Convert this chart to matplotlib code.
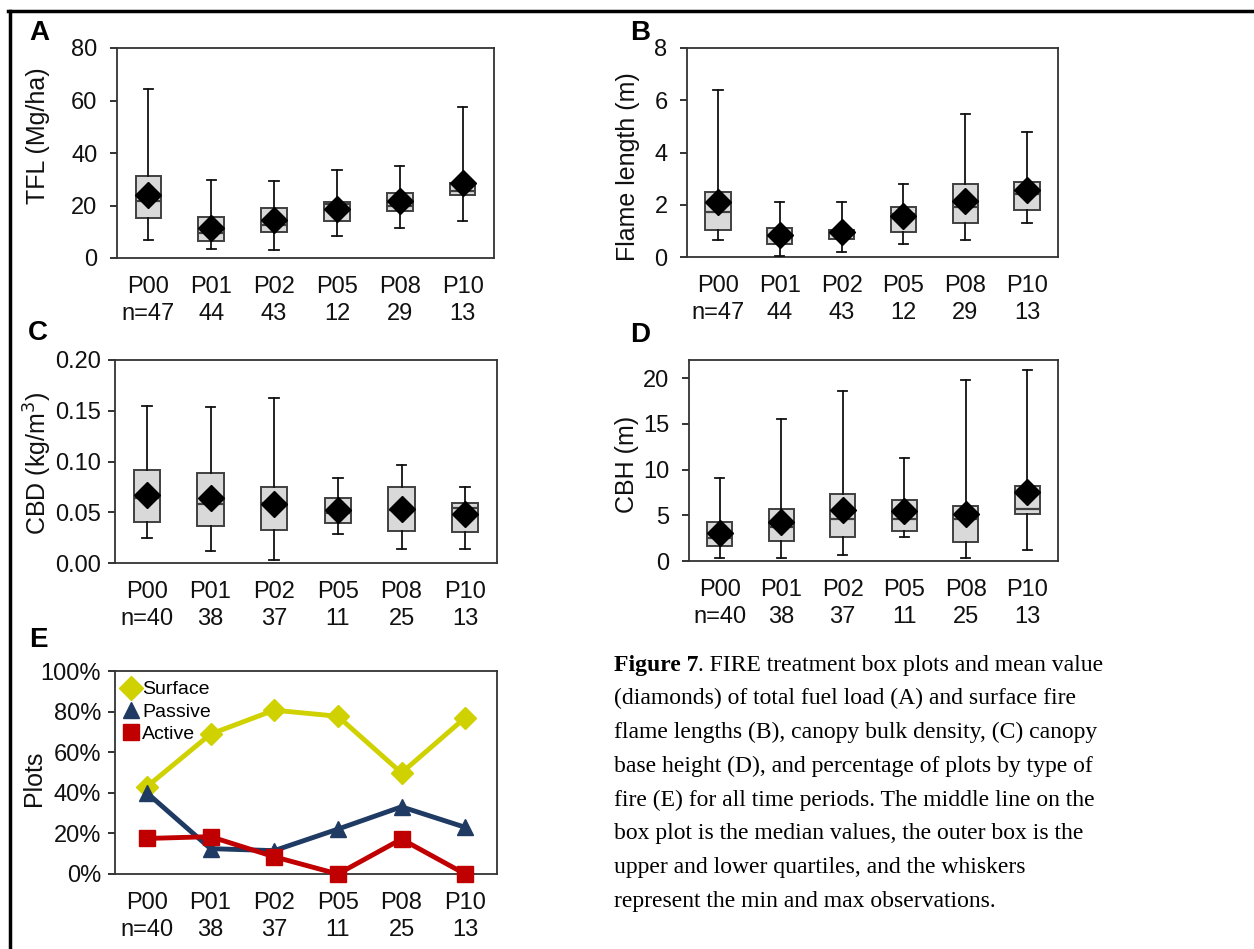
import matplotlib.pyplot as plt
import numpy as np
from matplotlib.lines import Line2D

plt.rcParams['font.family'] = ['Liberation Sans', 'DejaVu Sans']

periods = ["P00", "P01", "P02", "P05", "P08", "P10"]
n_ab = ["n=47", "44", "43", "12", "29", "13"]
n_cde = ["n=40", "38", "37", "11", "25", "13"]

# box plot stats: whisker low, q1, median, q3, whisker high, mean
tfl_lo = [7.0, 3.4, 3.2, 8.3, 11.3, 14.2]
tfl_q1 = [15.2, 6.5, 9.9, 14.0, 18.0, 24.0]
tfl_med = [21.7, 9.5, 12.6, 20.7, 19.7, 25.7]
tfl_q3 = [31.1, 15.5, 19.0, 21.5, 24.6, 28.6]
tfl_hi = [64.5, 29.7, 29.2, 33.7, 34.9, 57.5]
tfl_mean = [24.1, 11.3, 14.3, 18.8, 21.6, 28.6]

fl_lo = [0.64, 0.03, 0.19, 0.50, 0.64, 1.31]
fl_q1 = [1.05, 0.49, 0.69, 0.96, 1.31, 1.79]
fl_med = [1.72, 0.82, 0.90, 1.63, 1.92, 2.43]
fl_q3 = [2.50, 1.10, 1.05, 1.90, 2.79, 2.88]
fl_hi = [6.40, 2.10, 2.10, 2.79, 5.48, 4.80]
fl_mean = [2.09, 0.83, 0.96, 1.57, 2.15, 2.56]

cbd_lo = [0.025, 0.012, 0.003, 0.029, 0.014, 0.014]
cbd_q1 = [0.040, 0.0365, 0.033, 0.039, 0.0316, 0.0306]
cbd_med = [0.0645, 0.0586, 0.059, 0.049, 0.0526, 0.054]
cbd_q3 = [0.092, 0.089, 0.075, 0.064, 0.075, 0.0595]
cbd_hi = [0.155, 0.154, 0.1625, 0.0836, 0.097, 0.075]
cbd_mean = [0.0668, 0.064, 0.0585, 0.052, 0.053, 0.048]

cbh_lo = [0.3, 0.3, 0.62, 2.66, 0.3, 1.17]
cbh_q1 = [1.68, 2.15, 2.66, 3.28, 2.08, 5.15]
cbh_med = [2.52, 3.69, 4.6, 4.56, 4.6, 5.73]
cbh_q3 = [4.27, 5.66, 7.34, 6.68, 6.06, 8.2]
cbh_hi = [9.05, 15.5, 18.6, 11.3, 19.8, 20.9]
cbh_mean = [3.1, 4.23, 5.62, 5.51, 5.1, 7.6]

fire_types = ["Surface", "Passive", "Active"]
surface_pct = [43, 68.9, 80.7, 77.7, 49.8, 77]
passive_pct = [40, 12.5, 11.5, 22.1, 33.1, 23]
active_pct = [17.5, 18.4, 8.5, 0, 17.2, 0]

W, H = 1254, 949
fig = plt.figure(figsize=(W / 100, H / 100), dpi=100)


def px_axes(left, top, right, bottom):
    return fig.add_axes([left / W, 1 - bottom / H, (right - left) / W, (bottom - top) / H])


def style(ax, nlabels, ylabel, lab_x, lab_y, ypad=6):
    for s in ax.spines.values():
        s.set_color("#333333")
        s.set_linewidth(1.3)
    ax.set_xlim(-0.5, 5.5)
    ax.set_xticks(range(6))
    ax.set_xticklabels([p + "\n" + n for p, n in zip(periods, nlabels)], linespacing=1.32)
    ax.tick_params(axis="x", length=0, pad=13, labelsize=17, colors="#111111")
    ax.tick_params(axis="y", length=5, width=1.2, labelsize=17, colors="#111111", pad=ypad)
    ax.set_ylabel(ylabel, fontsize=18, color="#111111")
    # label anchor is its right edge (pixels), centre height in pixels
    bb = ax.get_position()
    ax.yaxis.set_label_coords((lab_x - bb.x0 * W) / (bb.width * W),
                              ((1 - lab_y / H) - bb.y0) / bb.height)


def boxes(ax, lo, q1, med, q3, hi, mean):
    stats = [dict(whislo=a, q1=b, med=c, q3=d, whishi=e, mean=f, fliers=[])
             for a, b, c, d, e, f in zip(lo, q1, med, q3, hi, mean)]
    ax.bxp(stats, positions=range(6), widths=0.41, capwidths=0.15,
           showmeans=True, patch_artist=True, manage_ticks=False,
           boxprops=dict(facecolor="#d9d9d9", edgecolor="#404040", linewidth=1.4),
           medianprops=dict(color="#404040", linewidth=1.6),
           whiskerprops=dict(color="#111111", linewidth=1.3),
           capprops=dict(color="#111111", linewidth=1.3),
           meanprops=dict(marker="D", markerfacecolor="black", markeredgecolor="black",
                          markersize=13), zorder=3)


axA = px_axes(117, 48, 494, 258)
boxes(axA, tfl_lo, tfl_q1, tfl_med, tfl_q3, tfl_hi, tfl_mean)
axA.set_ylim(0, 80)
axA.set_yticks(np.arange(0, 81, 20))
style(axA, n_ab, "TFL (Mg/ha)", 50, 136, ypad=9)

axB = px_axes(687, 48, 1058, 257)
boxes(axB, fl_lo, fl_q1, fl_med, fl_q3, fl_hi, fl_mean)
axB.set_ylim(0, 8)
axB.set_yticks(np.arange(0, 9, 2))
style(axB, n_ab, "Flame length (m)", 640, 167, ypad=9)

axC = px_axes(115, 360, 497, 563)
boxes(axC, cbd_lo, cbd_q1, cbd_med, cbd_q3, cbd_hi, cbd_mean)
axC.set_ylim(0, 0.2)
axC.set_yticks(np.arange(0, 0.201, 0.05))
axC.set_yticklabels(["%.2f" % v for v in np.arange(0, 0.201, 0.05)])
style(axC, n_cde, "CBD (kg/m$^3$)", 54, 463, ypad=5)

axD = px_axes(689, 360, 1058, 561)
boxes(axD, cbh_lo, cbh_q1, cbh_med, cbh_q3, cbh_hi, cbh_mean)
axD.set_ylim(0, 22)
axD.set_yticks(np.arange(0, 21, 5))
style(axD, n_cde, "CBH (m)", 639, 464, ypad=9)

axE = px_axes(115, 671, 497, 874)
x = np.arange(6)
colors = ["#cfd100", "#1f3a63", "#c00000"]
markers = ["D", "^", "s"]
for vals, c, m, lab in zip([surface_pct, passive_pct, active_pct], colors, markers, fire_types):
    axE.plot(x, vals, color=c, lw=3.5, marker=m, markersize=11, label=lab, clip_on=False, zorder=3)
axE.set_ylim(0, 100)
axE.set_yticks(np.arange(0, 101, 20))
axE.set_yticklabels(["%d%%" % v for v in range(0, 101, 20)])
style(axE, n_cde, "Plots", 46, 778, ypad=5)
handles = [Line2D([], [], color=c, marker=m, linestyle="none", markersize=12)
           for c, m in zip(colors, markers)]
axE.legend(handles, fire_types, loc="upper left", frameon=False, fontsize=14,
           handlelength=0.6, handletextpad=0.3, labelspacing=0.25,
           borderaxespad=0.2, borderpad=0.3)

# panel letters
for lab, (px, py) in zip("ABCDE", [(39, 33), (640, 33), (38, 333), (640, 335), (38, 640)]):
    fig.text(px / W, 1 - py / H, lab, fontsize=20, fontweight="bold", ha="center", va="center")

# caption
cap = ["Figure 7. FIRE treatment box plots and mean value",
       "(diamonds) of total fuel load (A) and surface fire",
       "flame lengths (B), canopy bulk density, (C) canopy",
       "base height (D), and percentage of plots by type of",
       "fire (E) for all time periods. The middle line on the",
       "box plot is the median values, the outer box is the",
       "upper and lower quartiles, and the whiskers",
       "represent the min and max observations."]
cx = 614
cfont = dict(family=["Liberation Serif", "DejaVu Serif"], fontsize=17, va="center")
for i, line in enumerate(cap):
    cy = 665 + i * 33.8
    if i == 0:
        t = fig.text(cx / W, 1 - cy / H, "Figure 7", fontweight="bold", **cfont)
        fig.canvas.draw()
        bb = t.get_window_extent()
        fig.text(bb.x1 / W, 1 - cy / H, line[len("Figure 7"):], **cfont)
    else:
        fig.text(cx / W, 1 - cy / H, line, **cfont)

# outer frame (top and left only)
fig.add_artist(Line2D([8 / W, 1], [1 - 11 / H, 1 - 11 / H], color="black", lw=2.5))
fig.add_artist(Line2D([10 / W, 10 / W], [1 - 11 / H, 0], color="black", lw=2.5))

fig.savefig("out.png", dpi=100)
